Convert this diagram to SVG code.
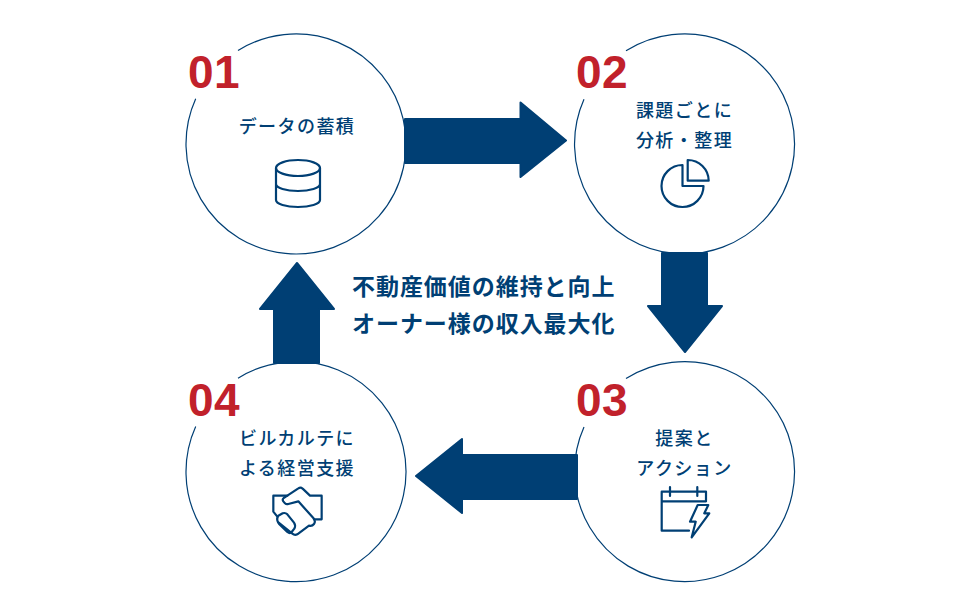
<svg xmlns="http://www.w3.org/2000/svg" width="961" height="616" viewBox="0 0 961 616">
<style>
.ring{fill:none;stroke:#003f74;stroke-width:1.2}
.num{font-family:"Liberation Sans",Arial,sans-serif;font-weight:700;font-size:46px;letter-spacing:.5px;fill:#c1212b}
.lab{font-family:"Noto Sans CJK JP",sans-serif;font-weight:500;font-size:18px;letter-spacing:1.44px;fill:#003f74;text-anchor:middle}
.head{font-family:"Noto Sans CJK JP",sans-serif;font-weight:700;font-size:23px;letter-spacing:.95px;fill:#003f74}
.ico{fill:none;stroke:#003f74;stroke-width:2.2;stroke-linejoin:round;stroke-linecap:round}
.arr{fill:#003f74;stroke:#003f74;stroke-width:2;stroke-linejoin:round}
</style>
<rect width="961" height="616" fill="#fff"/>
<g id="connectors">
<path class="arr" d="M405 119H520.500V102.500L566 140.500L520.500 177V163H405Z"/>
<path class="arr" d="M662 253H707V306H722L685 352L648 306H662Z"/>
<path class="arr" d="M577 455H462V439L416 476L462 513V499H577Z"/>
<path class="arr" d="M274 363V309H260L297 263L334 309H319V363Z"/>
</g>
<g id="node-01">
<path class="ring" d="M238 50.500A110 110 0 1 1 195.700 98.800"/>
<text class="num" x="188" y="88">01</text>
<text class="lab" x="297" y="133">データの蓄積</text>
<g class="ico"><ellipse cx="298" cy="168" rx="22" ry="8"/><path d="M276 168V200C276 204 286 207 298 207S320 204 320 200V168M276 184C276 188 286 191 298 191S320 188 320 184"/></g>
</g>
<g id="node-02">
<path class="ring" d="M626 50.800A110 110 0 1 1 584 99.300"/>
<text class="num" x="576" y="88">02</text>
<text class="lab" x="684.500" y="117">課題ごとに</text>
<text class="lab" x="684.500" y="147">分析・整理</text>
<g class="ico"><path d="M687.700 160A21 21 0 0 1 708.700 180.700H687.700Z"/><path d="M682.500 165A21 21 0 1 0 703.500 186H682.500Z"/></g>
</g>
<g id="node-03">
<path class="ring" d="M626 378.500A110 110 0 1 1 584 427"/>
<text class="num" x="576" y="416">03</text>
<text class="lab" x="684.500" y="445">提案と</text>
<text class="lab" x="684.500" y="475">アクション</text>
<g class="ico"><path d="M689 530.700H661.700V491.700H706V501.300H661.700M670 487V496M697.300 487V496"/><path d="M697.700 505H708.300L704.300 513.300H709.300L691.700 537.300L695.700 521.700H690Z"/></g>
</g>
<g id="node-04">
<path class="ring" d="M238 378.200A110 110 0 1 1 195.700 426.500"/>
<text class="num" x="188" y="416">04</text>
<text class="lab" x="297" y="445">ビルカルテに</text>
<text class="lab" x="297" y="475">よる経営支援</text>
<g class="ico" transform="translate(260 480) scale(.3333)" style="stroke-width:6.600"><path d="M162 118H185V47H150L128 26Q122 20 115 25L82 47H40V95L52 110"/><path d="M82 47L71 54Q66 58 70 64L75 70Q79 74 85 72L115 64L160 114Q168 124 162 132Q156 140 147 137L112 163Q104 167 97 161L55 127"/><path d="M55 107L68 100Q76 97 82 103L102 128Q108 136 103 146L95 156Q90 162 82 156L58 133Q47 120 55 107Z"/></g>
</g>
<g id="center-text">
<text class="head" x="352" y="295">不動産価値の維持と向上</text>
<text class="head" x="352" y="332">オーナー様の収入最大化</text>
</g>
</svg>
